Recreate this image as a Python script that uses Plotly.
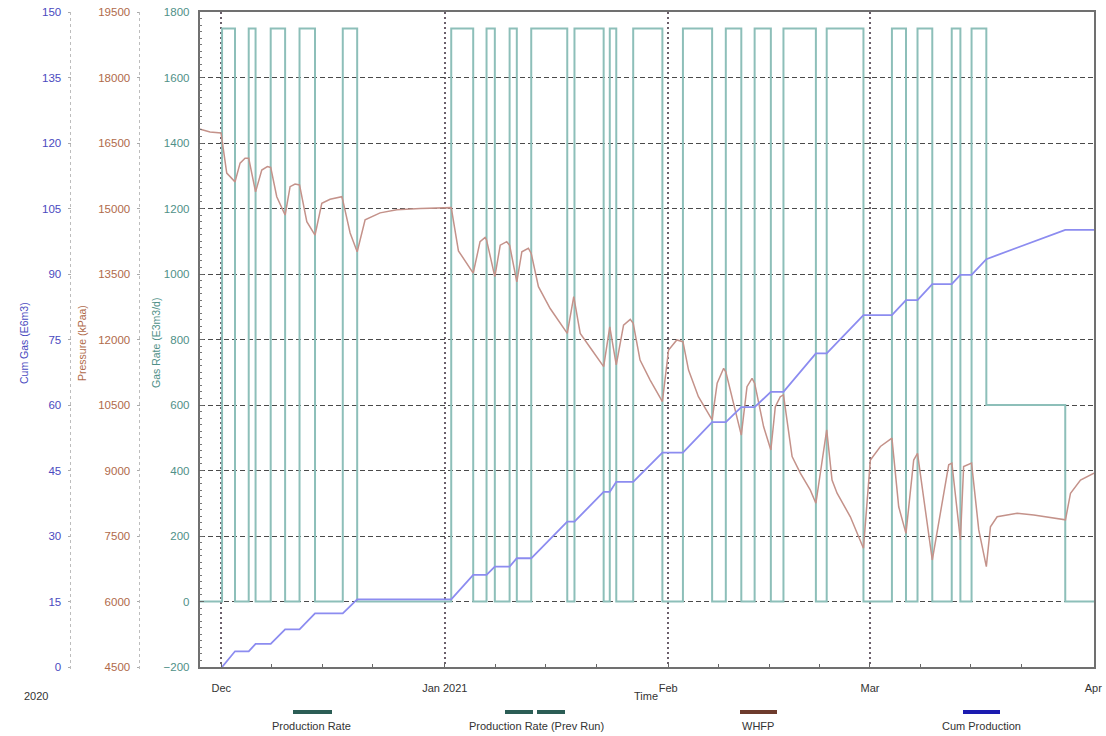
import pandas as pd
import plotly.graph_objects as go

# ---------------- data ----------------
BASE = "2020-12-01"  # day offsets below are days since this date

# Gas rate (E3m3/d): step changes (day offset, rate after the change)
rate_day = [-3.03, 0.1, 1.9, 3.8, 4.75, 6.85, 8.85, 10.85, 13.0, 16.85, 18.85,
            31.9, 34.95, 36.8, 37.95, 40.0, 41.0, 43.0, 48.0, 49.0, 53.05, 53.9, 54.8, 57.15, 61.2,
            64.05, 68.1, 70.0, 72.15, 74.0, 76.25, 78.0, 82.5, 84.0, 89.1,
            93.05, 95.0, 96.6, 98.65, 101.35, 102.55, 104.1, 106.15, 117.1, 121.09]
rate_val = [0, 1750, 0, 1750, 0, 1750, 0, 1750, 0, 1750, 0,
            1750, 0, 1750, 0, 1750, 0, 1750, 0, 1750, 0, 1750, 0, 1750, 0,
            1750, 0, 1750, 0, 1750, 0, 1750, 0, 1750, 0,
            1750, 0, 1750, 0, 1750, 0, 1750, 600, 0, 0]

# WHFP (kPaa)
whfp_day = [-3.03, -1.57, -0.04, 0.75, 1.9, 2.6, 3.29, 3.8, 4.75, 5.61,
            6.39, 6.85, 7.69, 8.85, 9.54, 10.23, 10.85, 11.86, 13.0, 13.94,
            15.09, 16.72, 16.85, 17.87, 18.85, 19.95, 22.03, 24.35, 27.59, 31.9,
            32.9, 34.95, 35.9, 36.6, 36.8, 37.95, 38.7, 39.6, 40.0, 41.0,
            41.7, 42.6, 43.0, 44.0, 45.63, 48.0, 48.9, 49.8, 51.42, 53.05,
            53.9, 54.8, 55.81, 56.74, 57.15, 58.1, 59.5, 61.2,
            62.06, 63.2, 64.05, 64.83, 66.2, 68.1, 68.8, 69.7, 70.0, 71.1,
            72.15, 72.94, 73.64, 74.0, 75.25, 76.25, 76.87, 77.56, 78.0, 79.2,
            80.34, 81.73, 82.5, 84.0, 84.74, 85.44, 87.28, 89.1,
            90.06, 91.45, 93.05, 93.99, 95.0, 96.07, 96.6, 98.65, 100.93, 101.37,
            102.55, 103.0, 104.1, 105.1, 106.15, 106.72, 107.65, 110.43, 112.73, 117.13,
            117.83, 119.22, 121.09]
whfp_val = [16820, 16750, 16730, 15810, 15610, 16040, 16150, 16150, 15380, 15880,
            15960, 15940, 15270, 14850, 15500, 15560, 15540, 14700, 14390, 15120,
            15210, 15270, 15190, 14440, 14010, 14740, 14900, 14970, 15000, 15020,
            14030, 13520, 14240, 14340, 14280, 13440, 14160, 14240, 14160, 13320,
            14010, 14090, 13970, 13210, 12710, 12140, 12980, 12140, 11760, 11380,
            12290, 11420, 12330, 12460, 12370, 11530, 11070, 10580,
            11760, 11990, 11950, 11300, 10690, 10160, 11000, 11340, 11260, 10540,
            9810, 10920, 11110, 11000, 10000, 9470, 10460, 10690, 10730, 9320,
            8940, 8550, 8250, 9930, 8780, 8480, 7940, 7220,
            9240, 9550, 9740, 8170, 7560, 9240, 9390, 6950, 9130, 9170,
            7410, 9090, 9170, 7640, 6800, 7710, 7940, 8020, 7980, 7870,
            8480, 8780, 8940]

# Cumulative gas production (E6m3)
cum_day = [0.1, 1.9, 3.8, 4.75, 6.85, 8.85, 10.85, 13.0, 16.85, 18.85,
           31.9, 34.95, 36.8, 37.95, 40.0, 41.0, 43.0, 48.0, 49.0, 53.05,
           53.9, 54.8, 57.15, 61.2, 64.05, 68.1, 70.0, 72.15, 74.0, 76.25,
           78.0, 82.5, 84.0, 89.1, 93.05, 95.0, 96.6, 98.65, 101.35, 102.55,
           104.1, 106.15, 117.1, 121.09]
cum_val = [0, 3.6, 3.6, 5.3, 5.3, 8.6, 8.6, 12.3, 12.3, 15.5,
           15.5, 21.1, 21.1, 23.0, 23.0, 24.9, 24.9, 33.3, 33.3, 40.1,
           40.1, 42.4, 42.4, 49.1, 49.1, 56.1, 56.1, 59.5, 59.5, 63.0,
           63.0, 71.8, 71.8, 80.6, 80.6, 84.0, 84.0, 87.7, 87.7, 89.8,
           89.8, 93.4, 100.1, 100.1]

month_ticks = ["2020-12-01", "2021-01-01", "2021-02-01", "2021-03-01", "2021-04-01"]
month_labels = ["Dec", "Jan 2021", "Feb", "Mar", "Apr"]
week_ticks = ["2020-12-08", "2020-12-15", "2020-12-22",
              "2021-01-08", "2021-01-15", "2021-01-22",
              "2021-02-08", "2021-02-15", "2021-02-22",
              "2021-03-08", "2021-03-15", "2021-03-22"]

legend_names = ["Production Rate", "Production Rate (Prev Run)", "WHFP", "Cum Production"]


def to_dt(days):
    return pd.Timestamp(BASE) + pd.to_timedelta(days, unit="D")


# ---------------- layout helpers (pixel -> paper) ----------------
W, H = 1106, 736
ML, MR, MT, MB = 0, 12, 12, 69
PW, PH = W - ML - MR, H - MT - MB


def px(x):
    return (x - ML) / PW


def py(y):
    return (H - MB - y) / PH


FONT = "Liberation Sans, Arial, sans-serif"
C_RATE, C_WHFP, C_CUM = "#8dbfb9", "#c4928a", "#8c8cf0"
C_RATE_T, C_WHFP_T, C_CUM_T = "#4f9088", "#b06a4a", "#4a4ac0"

fig = go.Figure()
fig.add_trace(go.Scatter(x=to_dt(rate_day), y=rate_val, mode="lines", name="Production Rate",
                         line=dict(color=C_RATE, width=2, shape="hv"), yaxis="y"))
fig.add_trace(go.Scatter(x=to_dt(whfp_day), y=whfp_val, mode="lines", name="WHFP",
                         line=dict(color=C_WHFP, width=1.5), yaxis="y2"))
fig.add_trace(go.Scatter(x=to_dt(cum_day), y=cum_val, mode="lines", name="Cum Production",
                         line=dict(color=C_CUM, width=1.8), yaxis="y3"))

x_range = [to_dt(-3.03), to_dt(121.09)]

fig.update_layout(
    width=W, height=H, template="none",
    paper_bgcolor="white", plot_bgcolor="white",
    margin=dict(l=ML, r=MR, t=MT, b=MB, pad=0, autoexpand=False),
    showlegend=False,
    font=dict(family=FONT, size=11, color="#333"),
    xaxis=dict(type="date", domain=[px(199.5), 1], range=x_range,
               tickmode="array", tickvals=month_ticks, ticktext=month_labels,
               showgrid=True, gridcolor="#6a5f6a", griddash="2px,3px", gridwidth=2,
               ticks="inside", ticklen=4, tickcolor="#666",
               minor=dict(tickvals=week_ticks, ticks="inside", ticklen=3, tickcolor="#666", showgrid=False),
               showline=True, linecolor="#707070", linewidth=1.5, mirror=True, zeroline=False,
               ticklabelstandoff=10, tickfont=dict(size=11, color="#333"), automargin=False,
               anchor="y"),
    yaxis=dict(range=[-200, 1800], tick0=0, dtick=200,
               showgrid=True, gridcolor="#4a4a4a", griddash="5px,3px", gridwidth=1.3,
               ticks="inside", ticklen=5, tickcolor="#666",
               minor=dict(dtick=20, ticks="inside", ticklen=3, tickcolor="#777", showgrid=False),
               showline=True, linecolor="#707070", linewidth=1.5, mirror=True, zeroline=False,
               tickfont=dict(size=11.5, color=C_RATE_T), ticklabelstandoff=6, automargin=False),
    yaxis2=dict(overlaying="y", anchor="free", position=px(139.5), side="left",
                range=[4500, 19500], tick0=4500, dtick=1500, tickformat="d",
                showgrid=False, zeroline=False,
                ticks="outside", ticklen=3, tickcolor="#aaa", showline=False,
                tickfont=dict(size=11.5, color=C_WHFP_T), ticklabelstandoff=4, automargin=False),
    yaxis3=dict(overlaying="y", anchor="free", position=px(70.5), side="left",
                range=[0, 150], tick0=0, dtick=15, tickformat="d",
                showgrid=False, zeroline=False,
                ticks="outside", ticklen=3, tickcolor="#aaa", showline=False,
                tickfont=dict(size=11.5, color=C_CUM_T), ticklabelstandoff=4, automargin=False),
)

# dotted axis lines of the two extra value axes
for xl in (70.5, 139.5):
    fig.add_shape(type="line", xref="paper", yref="paper", x0=px(xl), x1=px(xl), y0=py(12), y1=py(670),
                  line=dict(color="#bdbdbd", width=1, dash="dot"))

# axis titles
for text, xl, col in [("Cum Gas (E6m3)", 24, C_CUM_T), ("Pressure (kPaa)", 82, C_WHFP_T),
                      ("Gas Rate (E3m3/d)", 156, C_RATE_T)]:
    fig.add_annotation(text=text, x=px(xl), y=py(343), xref="paper", yref="paper", textangle=-90,
                       showarrow=False, xanchor="center", yanchor="middle",
                       font=dict(size=10.5, color=col, family=FONT))

fig.add_annotation(text="Time", x=px(646), y=py(704), xref="paper", yref="paper", showarrow=False,
                   font=dict(size=11, color="#333"))
fig.add_annotation(text="2020", x=px(22), y=py(704), xref="paper", yref="paper", showarrow=False,
                   font=dict(size=11, color="#333"))

# legend drawn below the plot: sample line above each label
legend_samples = [
    [(293, 332)],
    [(505, 533), (537, 565)],
    [(740, 777)],
    [(963, 1000)],
]
legend_centers = [312, 536, 758, 981]
legend_colors = ["#2b5d55", "#2b5d55", "#6e3b2d", "#1b1bb0"]
for name, segs, cx, col in zip(legend_names, legend_samples, legend_centers, legend_colors):
    for a, b in segs:
        fig.add_shape(type="line", xref="paper", yref="paper", x0=px(a), x1=px(b), y0=py(712), y1=py(712),
                      line=dict(color=col, width=4))
    fig.add_annotation(text=name, x=px(cx), y=py(726), xref="paper", yref="paper", showarrow=False,
                       xanchor="center", yanchor="middle", font=dict(size=11, color="#333"))

fig.write_html("out.html", config={"displayModeBar": False},
               post_script="document.body.style.margin='0';document.body.style.overflow='hidden';")
